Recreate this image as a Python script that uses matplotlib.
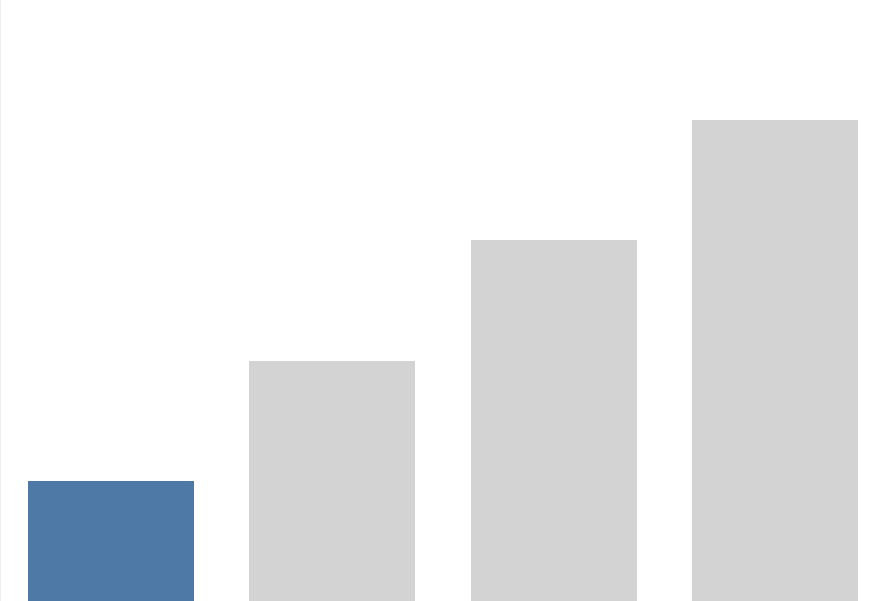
import matplotlib
matplotlib.use("Agg")
import matplotlib.pyplot as plt

categories = ["A", "B", "C", "D"]
values = [1, 2, 3, 4]
colors = ["#4e79a7", "#d3d3d3", "#d3d3d3", "#d3d3d3"]

fig = plt.figure(figsize=(8.86, 6.01), dpi=100)
ax = fig.add_axes([0, 0, 1, 1])
ax.bar(range(len(categories)), values, width=0.75, color=colors)
ax.set_xlim(-0.5, 3.5)
ax.set_ylim(0, 5)
ax.set_xticks([])
ax.set_yticks([])
for s in ["top", "right", "bottom"]:
    ax.spines[s].set_visible(False)
ax.spines["left"].set_color("#eeeeee")
ax.spines["left"].set_linewidth(1.5)
fig.savefig("out.png", dpi=100)
